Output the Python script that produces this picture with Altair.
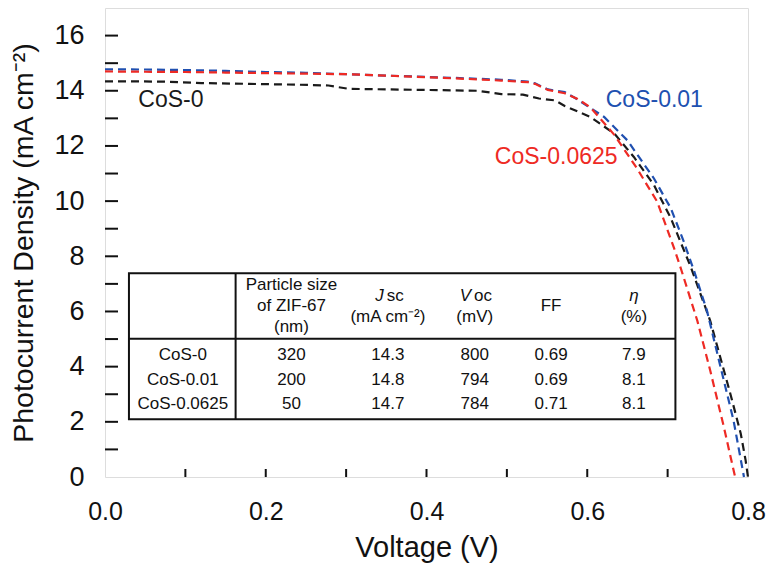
import altair as alt
import pandas as pd

# ---------------- data: J-V curves ----------------
v_cos0 = [0.0, 0.04, 0.073, 0.12, 0.18, 0.24, 0.278, 0.303, 0.35, 0.40, 0.464, 0.493,
          0.52, 0.54, 0.56, 0.572, 0.604, 0.634, 0.658, 0.683, 0.704, 0.729, 0.753,
          0.778, 0.791, 0.797, 0.800]
j_cos0 = [14.34, 14.34, 14.33, 14.28, 14.25, 14.22, 14.19, 14.07, 14.05, 14.03, 14.0, 13.88,
          13.86, 13.72, 13.65, 13.45, 13.05, 12.44, 11.6, 10.58, 9.38, 7.6, 5.66,
          3.02, 1.57, 0.61, 0.0]

v_cos001 = [0.0, 0.05, 0.10, 0.15, 0.20, 0.25, 0.30, 0.35, 0.402, 0.45, 0.493, 0.526,
            0.535, 0.551, 0.572, 0.586, 0.621, 0.650, 0.683, 0.704, 0.720, 0.733, 0.749,
            0.766, 0.782, 0.795]
j_cos001 = [14.78, 14.77, 14.75, 14.72, 14.68, 14.65, 14.6, 14.55, 14.5, 14.45, 14.4, 14.33,
            14.27, 14.05, 13.95, 13.72, 13.05, 12.2, 10.82, 9.74, 8.54, 7.46, 6.02,
            3.97, 2.05, 0.0]

v_cos0625 = [0.0, 0.05, 0.10, 0.15, 0.20, 0.25, 0.30, 0.35, 0.402, 0.45, 0.493, 0.526,
             0.535, 0.551, 0.572, 0.588, 0.604, 0.634, 0.662, 0.687, 0.708, 0.716, 0.737,
             0.753, 0.770, 0.782, 0.784]
j_cos0625 = [14.7, 14.69, 14.68, 14.66, 14.64, 14.62, 14.6, 14.55, 14.49, 14.43, 14.37, 14.31,
             14.25, 14.03, 13.91, 13.7, 13.4, 12.39, 11.18, 9.98, 8.3, 7.6, 5.66,
             3.86, 1.81, 0.25, 0.0]

series_names = ["CoS-0", "CoS-0.01", "CoS-0.0625"]
series_colors = ["#1a1a1a", "#2050b0", "#ee2a24"]

# axis values
x_label_values = [0.0, 0.2, 0.4, 0.6, 0.8]
x_tick_values = [0.1, 0.2, 0.3, 0.4, 0.5, 0.6, 0.7]
y_label_values = [0, 2, 4, 6, 8, 10, 12, 14, 16]
y_tick_values = list(range(1, 17))

# ---------------- data: inset table ----------------
row_names = ["CoS-0", "CoS-0.01", "CoS-0.0625"]
particle_size = ["320", "200", "50"]
jsc_values = ["14.3", "14.8", "14.7"]
voc_values = ["800", "794", "784"]
ff_values = ["0.69", "0.69", "0.71"]
eta_values = ["7.9", "8.1", "8.1"]

# ---------------- layout (data units) ----------------
W, H = 643, 469
XMAX, YMAX = 0.8, 17
col_centers = [0.0968, 0.232, 0.352, 0.460, 0.555, 0.658]
row_y = [4.43, 3.53, 2.63]
tbl_left, tbl_right, tbl_top, tbl_bottom = 0.0298, 0.7097, 7.387, 2.09
tbl_hsep, tbl_vsep = 5.009, 0.1625
FONT = "Liberation Sans"

xs = alt.Scale(domain=[0, XMAX], nice=False, zero=False)
ys = alt.Scale(domain=[0, YMAX], nice=False, zero=False)

# curves
rows = []
for name, vv, jj in [("CoS-0", v_cos0, j_cos0),
                     ("CoS-0.01", v_cos001, j_cos001),
                     ("CoS-0.0625", v_cos0625, j_cos0625)]:
    for i, (v, j) in enumerate(zip(vv, jj)):
        rows.append({"series": name, "V": v, "J": j, "i": i})
curves_df = pd.DataFrame(rows)

curves = alt.Chart(curves_df).mark_line(strokeWidth=2.2, strokeDash=[8, 5]).encode(
    x=alt.X("V:Q", scale=xs, axis=alt.Axis(
        values=x_label_values, format=".1f", title="Voltage (V)",
        labelFontSize=25, titleFontSize=29, titleFontWeight="normal",
        labelFont=FONT, titleFont=FONT, labelColor="#111", titleColor="#111",
        ticks=False, domain=False, grid=False, labelPadding=22, titlePadding=9,
        labelFlush=False)),
    y=alt.Y("J:Q", scale=ys, axis=alt.Axis(
        values=y_label_values, title="Photocurrent Density (mA cm\u207b\u00b2)",
        labelFontSize=27, titleFontSize=28.5, titleFontWeight="normal",
        labelFont=FONT, titleFont=FONT, labelColor="#111", titleColor="#111",
        ticks=False, domain=False, grid=False, labelPadding=21, titlePadding=15,
        labelFlush=False)),
    color=alt.Color("series:N", scale=alt.Scale(domain=series_names, range=series_colors), legend=None),
    detail="series:N",
    order="i:Q",
)

# inward ticks
xt = alt.Chart(pd.DataFrame({"V": x_tick_values})).mark_rule(color="#111", strokeWidth=2).encode(
    x=alt.X("V:Q", scale=xs), y=alt.value(H), y2=alt.value(H - 8))
yt = alt.Chart(pd.DataFrame({"J": y_tick_values})).mark_rule(color="#111", strokeWidth=2).encode(
    y=alt.Y("J:Q", scale=ys), x=alt.value(0), x2=alt.value(13))

# curve labels
lab_df = pd.DataFrame({
    "text": series_names,
    "V": [0.082, 0.623, 0.485],
    "J": [13.66, 13.66, 11.6],
    "align": ["center", "left", "left"],
})
labels = alt.Chart(lab_df).mark_text(fontSize=23, font=FONT, baseline="middle").encode(
    x=alt.X("V:Q", scale=xs), y=alt.Y("J:Q", scale=ys), text="text:N",
    color=alt.Color("text:N", scale=alt.Scale(domain=series_names, range=series_colors), legend=None),
)
labels_c = labels.transform_filter(alt.datum.align == "center").mark_text(
    fontSize=23, font=FONT, baseline="middle", align="center")
labels_l = labels.transform_filter(alt.datum.align == "left").mark_text(
    fontSize=23, font=FONT, baseline="middle", align="left")

# table frame
box = alt.Chart(pd.DataFrame({"x1": [tbl_left], "x2": [tbl_right], "y1": [tbl_top], "y2": [tbl_bottom]})).mark_rect(
    fill="white", stroke="#111", strokeWidth=2).encode(
    x=alt.X("x1:Q", scale=xs), x2="x2:Q", y=alt.Y("y1:Q", scale=ys), y2="y2:Q")
hsep = alt.Chart(pd.DataFrame({"x1": [tbl_left], "x2": [tbl_right], "y": [tbl_hsep]})).mark_rule(
    color="#111", strokeWidth=2).encode(x=alt.X("x1:Q", scale=xs), x2="x2:Q", y=alt.Y("y:Q", scale=ys))
vsep = alt.Chart(pd.DataFrame({"x": [tbl_vsep], "y1": [tbl_top], "y2": [tbl_bottom]})).mark_rule(
    color="#111", strokeWidth=2).encode(x=alt.X("x:Q", scale=xs), y=alt.Y("y1:Q", scale=ys), y2="y2:Q")

# table cells (normal style, centered)
cells = []
for r, vals in enumerate(zip(row_names, particle_size, jsc_values, voc_values, ff_values, eta_values)):
    for c, t in enumerate(vals):
        cells.append({"text": t, "V": col_centers[c], "J": row_y[r]})
hdr_y3 = [6.955, 6.198, 5.441]
hdr_y2 = [6.559, 5.802]
cells += [
    {"text": "Particle size", "V": col_centers[1], "J": hdr_y3[0]},
    {"text": "of ZIF-67", "V": col_centers[1], "J": hdr_y3[1]},
    {"text": "(nm)", "V": col_centers[1], "J": hdr_y3[2]},
    {"text": "(mA cm\u207b\u00b2)", "V": col_centers[2], "J": hdr_y2[1]},
    {"text": "(mV)", "V": col_centers[3], "J": hdr_y2[1]},
    {"text": "FF", "V": col_centers[4], "J": hdr_y3[1]},
    {"text": "(%)", "V": col_centers[5], "J": hdr_y2[1]},
]
cells_df = pd.DataFrame(cells)
cell_text = alt.Chart(cells_df).mark_text(fontSize=17, font=FONT, color="#111", baseline="middle", align="center").encode(
    x=alt.X("V:Q", scale=xs), y=alt.Y("J:Q", scale=ys), text="text:N")

# split headers: italic symbol + normal subscript text
ital_df = pd.DataFrame({"text": ["J", "V"], "V": [0.348, 0.4566], "J": [hdr_y2[0]] * 2})
norm_df = pd.DataFrame({"text": ["sc", "oc"], "V": [0.348, 0.4566], "J": [hdr_y2[0]] * 2})
ital = alt.Chart(ital_df).mark_text(fontSize=17, font=FONT, fontStyle="italic", color="#111",
                                    baseline="middle", align="right", dx=-1).encode(
    x=alt.X("V:Q", scale=xs), y=alt.Y("J:Q", scale=ys), text="text:N")
norm = alt.Chart(norm_df).mark_text(fontSize=17, font=FONT, color="#111",
                                    baseline="middle", align="left", dx=2).encode(
    x=alt.X("V:Q", scale=xs), y=alt.Y("J:Q", scale=ys), text="text:N")
eta_df = pd.DataFrame({"text": ["\u03b7"], "V": [col_centers[5]], "J": [hdr_y2[0]]})
eta = alt.Chart(eta_df).mark_text(fontSize=17, font=FONT, fontStyle="italic", color="#111",
                                  baseline="middle", align="center").encode(
    x=alt.X("V:Q", scale=xs), y=alt.Y("J:Q", scale=ys), text="text:N")

chart = alt.layer(curves, xt, yt, labels_c, labels_l, box, hsep, vsep, cell_text, ital, norm, eta).properties(
    width=W, height=H,
    autosize=alt.AutoSizeParams(type="none"),
    padding={"left": 97, "top": 0, "right": 18, "bottom": 86},
).configure_view(stroke="#111", strokeWidth=2).configure(background="white")

chart.save("out.html", embed_options={"renderer": "svg", "actions": False})
